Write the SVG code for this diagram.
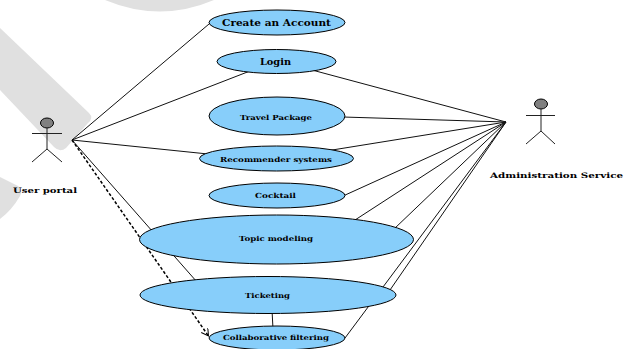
<svg xmlns="http://www.w3.org/2000/svg" width="634" height="349" viewBox="0 0 634 349">
<style>
.bg{fill:#e0e0e0;stroke:none}
.uc{fill:#87cefa;stroke:#000;stroke-width:1}
.ln{stroke:#111;stroke-width:1;fill:none}
.dash{stroke:#000;stroke-width:1.5;stroke-dasharray:3 2;fill:none}
.fig{stroke:#222;stroke-width:1;fill:none}
.head{fill:#808080;stroke:#000;stroke-width:1}
text{font-family:"DejaVu Serif",serif;font-weight:bold;fill:#000}
</style>
<defs><marker id="open" markerWidth="9" markerHeight="9" refX="7" refY="4" orient="auto" markerUnits="userSpaceOnUse"><path d="M0 0L7 4L0 8" fill="none" stroke="#000" stroke-width="1"/></marker></defs>
<rect width="634" height="349" fill="#fff"/>
<g id="watermark">
<path class="bg" d="M105 0Q160 23 214 0Z"/>
<path class="bg" d="M0 28L89 113Q94 118 88 123L66 148Q60 153 54 147L0 90Z"/>
<path class="bg" d="M0 177L18 186Q23 190 20 196Q12 210 0 219Z"/>
</g>
<g id="connectors">
<path class="ln" d="M72 140L209 24M72 140L250 71M72 140L208 154M72 140L197 282"/>
<path class="dash" d="M72 140L208.500 336" marker-end="url(#open)"/>
<path class="ln" d="M506 122L312 70M506 122L343 117M506 122L326 151M506 122L343 196M506 122L355 220M506 122L394 229M506 122L390 290M506 122L345 338M272 310L273 329"/>
</g>
<g id="uc-create"><ellipse class="uc" cx="277" cy="22.500" rx="68" ry="12.500"/><text x="222" y="25.500" font-size="8.500" textLength="109" lengthAdjust="spacingAndGlyphs">Create an Account</text></g>
<g id="uc-login"><ellipse class="uc" cx="276.500" cy="61.500" rx="59.500" ry="12"/><text x="260" y="64.500" font-size="8.500" textLength="31" lengthAdjust="spacingAndGlyphs">Login</text></g>
<g id="uc-travel"><ellipse class="uc" cx="277" cy="116" rx="68" ry="19"/><text x="240" y="120" font-size="7" textLength="72" lengthAdjust="spacingAndGlyphs">Travel Package</text></g>
<g id="uc-recommender"><ellipse class="uc" cx="276.500" cy="158.500" rx="77" ry="12.500"/><text x="220" y="161.500" font-size="7" textLength="112" lengthAdjust="spacingAndGlyphs">Recommender systems</text></g>
<g id="uc-cocktail"><ellipse class="uc" cx="277" cy="195.500" rx="68" ry="12.500"/><text x="255" y="198" font-size="7" textLength="41" lengthAdjust="spacingAndGlyphs">Cocktail</text></g>
<g id="uc-topic"><ellipse class="uc" cx="276.500" cy="239.500" rx="137" ry="24.500"/><text x="239" y="241" font-size="7" textLength="74" lengthAdjust="spacingAndGlyphs">Topic modeling</text></g>
<g id="uc-ticketing"><ellipse class="uc" cx="268" cy="295" rx="128" ry="18.500"/><text x="245" y="298" font-size="7" textLength="45" lengthAdjust="spacingAndGlyphs">Ticketing</text></g>
<g id="uc-collab"><ellipse class="uc" cx="277" cy="338" rx="68" ry="12"/><text x="223" y="340" font-size="7" textLength="106" lengthAdjust="spacingAndGlyphs">Collaborative filtering</text></g>
<g id="actor-user"><ellipse class="head" cx="47" cy="123" rx="6.500" ry="5"/><path class="fig" d="M47 128V149M32 133.500H62M47 149L32 162M47 149L62 162"/><text x="13" y="193" font-size="7.500" textLength="64" lengthAdjust="spacingAndGlyphs">User portal</text></g>
<g id="actor-admin"><ellipse class="head" cx="541" cy="104" rx="6.500" ry="5"/><path class="fig" d="M541 109V131M526 115.500H555M541 131L526 144M541 131L555 144"/><text x="490" y="178" font-size="7.500" textLength="133" lengthAdjust="spacingAndGlyphs">Administration Service</text></g>
</svg>
